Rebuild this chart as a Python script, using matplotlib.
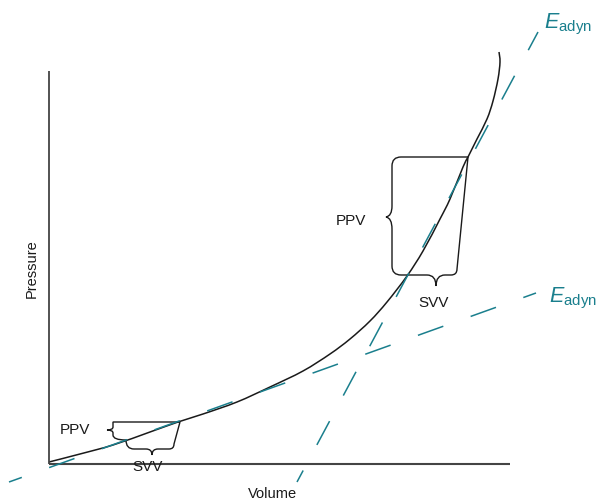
import matplotlib
matplotlib.use("Agg")
import matplotlib.pyplot as plt
from matplotlib.path import Path
from matplotlib.patches import PathPatch

plt.rcParams['font.family'] = ['Liberation Sans', 'DejaVu Sans']
plt.rcParams['mathtext.fontset'] = 'custom'
plt.rcParams['mathtext.rm'] = 'Liberation Sans'
plt.rcParams['mathtext.it'] = 'Liberation Sans:italic'
plt.rcParams['lines.scale_dashes'] = False

# pressure-volume curve (pixel-like units, y down)
vol = [49, 80, 113, 150, 178, 203, 237, 270, 303, 330, 350, 370, 387, 407,
       423, 440, 450, 463, 468, 477, 487, 493, 498, 500, 499]
pres = [463, 455, 446, 433, 423, 415, 403, 388, 372, 355, 340, 322, 303, 277,
        252, 220, 200, 168, 158, 140, 120, 102, 80, 63, 53]

# the two elastance tangents (end points)
shallow_x = [9, 536]
shallow_y = [483, 294]
steep_x = [297, 538]
steep_y = [483, 33]

teal = '#1a7f8d'
ink = '#1a1a1a'

fig = plt.figure(figsize=(5.99, 5.02), dpi=100)
ax = fig.add_axes([0, 0, 1, 1])
ax.set_xlim(0, 599)
ax.set_ylim(502, 0)
ax.axis('off')

# axes
ax.plot([49, 49], [72, 465], color='#444444', lw=1.3, solid_capstyle='butt')
ax.plot([49, 510], [465, 465], color='#444444', lw=1.5, solid_capstyle='butt')

# dashed tangents
ax.plot(shallow_x, shallow_y, color=teal, lw=1.1, linestyle=(9.6, (19.4, 20.9)))
ax.plot(steep_x, steep_y, color=teal, lw=1.1, linestyle=(10.0, (19.4, 20.9)))

# curve, drawn as a smooth bezier path through the read points
pts = list(zip(vol, pres))
verts = [pts[0]]
codes = [Path.MOVETO]
for i in range(len(pts) - 1):
    p0 = pts[max(i - 1, 0)]
    p1 = pts[i]
    p2 = pts[i + 1]
    p3 = pts[min(i + 2, len(pts) - 1)]
    c1 = (p1[0] + (p2[0] - p0[0]) / 6, p1[1] + (p2[1] - p0[1]) / 6)
    c2 = (p2[0] - (p3[0] - p1[0]) / 6, p2[1] - (p3[1] - p1[1]) / 6)
    verts += [c1, c2, p2]
    codes += [Path.CURVE4] * 3
ax.add_patch(PathPatch(Path(verts, codes), fill=False, ec=ink, lw=1.1))

# brackets (PPV / SVV)
M, L, C = Path.MOVETO, Path.LINETO, Path.CURVE3
upper = [
    (M, (468, 158)), (L, (401, 158)), (C, (392, 158)), (C, (392, 167)),
    (L, (392, 207)), (C, (392, 217)), (C, (386, 218)),
    (C, (392, 219)), (C, (392, 230)),
    (L, (392, 267)), (C, (392, 276)), (C, (401, 276)),
    (L, (427, 276)), (C, (436, 276)), (C, (436, 287)),
    (C, (436, 276)), (C, (445, 276)),
    (L, (451, 276)), (C, (457, 276)), (C, (457, 270)),
    (L, (468, 158)),
]
lower = [
    (M, (180, 423)), (L, (113, 423)), (L, (113, 428)),
    (C, (113, 431)), (C, (107, 431)), (C, (113, 431)), (C, (113, 434)),
    (L, (113, 436)), (C, (113, 441)), (C, (126, 441)),
    (C, (126, 450)), (C, (134, 450)),
    (L, (146, 450)), (C, (152, 450)), (C, (152, 456)),
    (C, (152, 450)), (C, (158, 450)),
    (L, (169, 450)), (C, (174, 450)), (C, (174, 445)),
    (L, (180, 423)),
]
for br in (upper, lower):
    codes, verts = zip(*br)
    ax.add_patch(PathPatch(Path(verts, codes), fill=False, ec=ink, lw=1.0))

# labels
ax.text(336, 225, 'PPV', fontsize=11, color=ink, ha='left', va='baseline')
ax.text(418, 307, 'SVV', fontsize=11, color=ink, ha='left', va='baseline')
ax.text(60, 434, 'PPV', fontsize=11, color=ink, ha='left', va='baseline')
ax.text(132, 471, 'SVV', fontsize=11, color=ink, ha='left', va='baseline')
ax.text(32, 269, 'Pressure', fontsize=10.5, color=ink, rotation=90,
        ha='center', va='center')
ax.text(273, 494, 'Volume', fontsize=10.5, color=ink, ha='center', va='center')

ax.text(544, 28, r'$E_{\mathrm{adyn}}$', fontsize=15.5, color=teal,
        ha='left', va='baseline')
ax.text(549, 302, r'$E_{\mathrm{adyn}}$', fontsize=15.5, color=teal,
        ha='left', va='baseline')

fig.savefig('out.png', dpi=100)
